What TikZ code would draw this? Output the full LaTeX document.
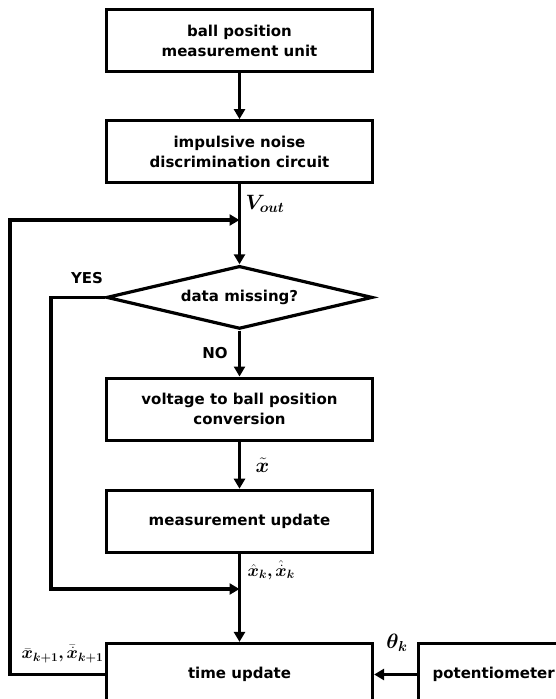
\documentclass[tikz,border=0pt]{standalone}
\usepackage{amsmath}
\usepackage{bm}
\usepackage{fontspec}
\setsansfont{DejaVu Sans}
\usepackage{tikz}
\usetikzlibrary{shapes.geometric,arrows.meta,positioning}

\begin{document}
\begin{tikzpicture}[
    x=1pt, y=-1pt,
    font=\sffamily\bfseries\fontsize{15}{20}\selectfont,
    node distance=46pt,
    block/.style={rectangle, draw, line width=3.2pt, align=center, minimum width=266pt, minimum height=62pt, inner sep=2pt},
    decision/.style={diamond, draw, line width=3.2pt, aspect=4.1, minimum width=266pt, minimum height=63pt, inner sep=0pt},
    arrow/.style={-{Triangle[length=10pt, width=11pt]}, line width=3.2pt},
    sig/.style={font=\fontsize{20}{22}\selectfont, inner sep=0.5pt}
]
    \useasboundingbox (0,0) rectangle (555,699);

    % main chain
    \node [block] (bpm) at (239.5,40.5) {ball position\\measurement unit};
    \node [block, below=of bpm] (ind) {impulsive noise\\discrimination circuit};
    \node [decision, below=80pt of ind] (dm) {data missing?};
    \node [block, below=of dm] (vbp) {voltage to ball position\\conversion};
    \node [block, below=47pt of vbp] (mu) {measurement update};
    \node [block, below=88pt of mu] (tu) {time update};
    \node [block, minimum width=150pt, right=43pt of tu] (pot) {potentiometer};

    % join points on the main line
    \coordinate (fb) at (ind.south |- 0,220);
    \coordinate (yj) at (ind.south |- 0,589);

    \draw [arrow] (bpm) -- (ind);
    \draw [arrow] (ind) -- (dm);
    \draw [arrow] (dm) -- node [left=7pt] {NO} (vbp);
    \draw [arrow] (vbp) -- node [sig, right=14pt] {$\bm{\tilde{x}}$} (mu);
    \draw [arrow] (mu) -- (tu);
    \draw [arrow] (pot) -- (tu);
    \draw [arrow] (dm.west) -- ++(-54,0) |- (yj);
    \draw [arrow] (tu.west) -- ++(-95,0) |- (fb);

    % signal labels
    \node [sig, anchor=west] (vout) at (245,204) {$\bm{V_{out}}$};
    \node [sig, anchor=west, font=\fontsize{18.5}{20}\selectfont] (xhat) at (247,570) {$\bm{\hat{x}_k, \hat{\dot{x}}_k}$};
    \node [sig] (thk) at (397,643) {$\bm{\theta_k}$};
    \node [sig, anchor=east, font=\fontsize{16.5}{18}\selectfont] (xbar) at (104,654) {$\bm{\bar{x}_{k+1}, \bar{\dot{x}}_{k+1}}$};
    \node (yes) at (87,278) {YES};
\end{tikzpicture}
\end{document}
